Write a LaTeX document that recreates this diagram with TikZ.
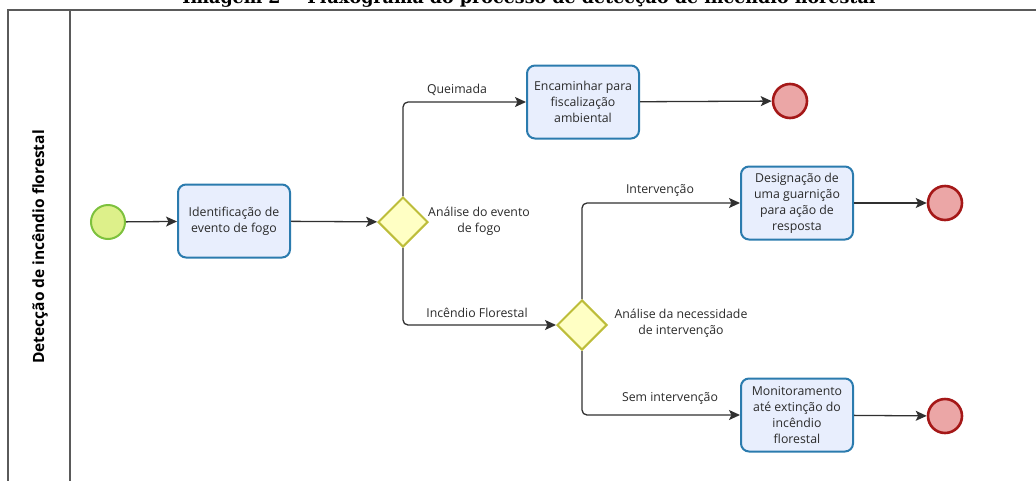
\documentclass[tikz,border=0pt]{standalone}
\usepackage{fontspec}
\setmainfont{Open Sans}
\newfontfamily\titlefont{DejaVu Serif}
\usetikzlibrary{arrows.meta,shapes.geometric}
\definecolor{startfill}{HTML}{DDF08A}
\definecolor{startdraw}{HTML}{7DC13D}
\definecolor{taskfill}{HTML}{E8EEFD}
\definecolor{taskdraw}{HTML}{2B7BAE}
\definecolor{gatefill}{HTML}{FFFFC4}
\definecolor{gatedraw}{HTML}{BDBD3A}
\definecolor{endfill}{HTML}{EBA6A6}
\definecolor{enddraw}{HTML}{A51818}
\definecolor{flowcol}{HTML}{303030}
\definecolor{poolcol}{HTML}{5A5A5A}
\definecolor{txtcol}{HTML}{2A2A2A}
\tikzset{
  startev/.style={circle, draw=startdraw, fill=startfill, line width=2pt, minimum size=34, inner sep=0},
  endev/.style={circle, draw=enddraw, fill=endfill, line width=2.6pt, minimum size=34, inner sep=0},
  taskbox/.style={rectangle, rounded corners=8, draw=taskdraw, fill=taskfill, line width=2pt,
    minimum width=112, minimum height=73, align=center, inner sep=0,
    text=txtcol, font=\fontsize{12.3}{16}\selectfont},
  gate/.style={diamond, draw=gatedraw, fill=gatefill, line width=2pt, minimum width=50, minimum height=50, inner sep=0},
  flow/.style={draw=flowcol, line width=1.3pt, rounded corners=5, -{Stealth[length=11, width=10, inset=2.5]}},
  lbl/.style={text=txtcol, font=\fontsize{12.3}{16}\selectfont, align=center, inner sep=0},
  pool/.style={draw=poolcol, line width=1.4pt}
}
\begin{document}
\begin{tikzpicture}[x=1pt,y=-1pt]
\useasboundingbox (0,0) rectangle (1036,480);
% title (cut at the top, as in the reference)
\begin{scope}
\clip (0,0) rectangle (1036,480);
\node[font=\titlefont\bfseries\fontsize{17.5}{19}\selectfont, anchor=base, inner sep=0] (title) at (529,3) {Imagem 2 -- Fluxograma do processo de detecção de incêndio florestal};
\end{scope}
% pool
\draw[pool] (8,482) |- (1038,10);
\draw[pool] (70,10) -- (70,482);
\node[rotate=90, font=\bfseries\fontsize{15.5}{17}\selectfont, inner sep=0] (lane) at (40,247) {Detecção de incêndio florestal};
% nodes
\node[startev] (s) at (108,222) {};
\node[taskbox] (t1) at (234,221) {Identificação de\\evento de fogo};
\node[gate] (g1) at (403,222) {};
\node[lbl] (g1l) at (479,221) {Análise do evento\\de fogo};
\node[taskbox] (t2) at (583,102) {Encaminhar para\\fiscalização\\ambiental};
\node[endev] (e1) at (790,101) {};
\node[gate] (g2) at (582,325) {};
\node[lbl] (g2l) at (681,323) {Análise da necessidade\\de intervenção};
\node[taskbox] (t3) at (797,203) {Designação de\\uma guarnição\\para ação de\\resposta};
\node[endev] (e2) at (945,203) {};
\node[taskbox] (t4) at (797,415) {Monitoramento\\até extinção do\\incêndio\\florestal};
\node[endev] (e3) at (945,416) {};
% flow labels
\node[lbl] (q) at (457,90) {Queimada};
\node[lbl] (inc) at (477,313) {Incêndio Florestal};
\node[lbl] (iv) at (660,190) {Intervenção};
\node[lbl] (sv) at (670,398) {Sem intervenção};
% flows
\draw[flow] (s) -- (t1);
\draw[flow] (t1) -- (g1);
\draw[flow] (g1.north) |- (t2.west);
\draw[flow] (t2) -- (e1);
\draw[flow] (g1.south) |- (g2.west);
\draw[flow] (g2.north) |- (t3.west);
\draw[flow] (t3) -- (e2);
\draw[flow] (g2.south) |- (t4.west);
\draw[flow] (t4) -- (e3);
\end{tikzpicture}
\end{document}
